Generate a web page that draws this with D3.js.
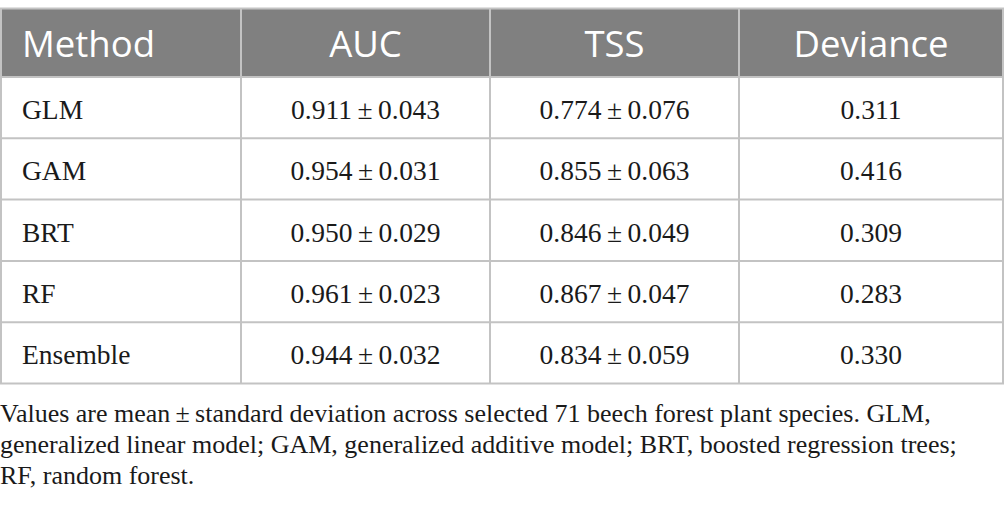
<!DOCTYPE html>
<html>
<head>
<meta charset="utf-8">
<script src="https://cdn.jsdelivr.net/npm/d3@7"></script>
<style>
html,body{margin:0;padding:0;background:#fff;}
svg{display:block;}
</style>
</head>
<body>
<svg id="chart" width="1005" height="515"></svg>
<script>
// ---- data ----
const headers = ["Method", "AUC", "TSS", "Deviance"];
const methods = ["GLM", "GAM", "BRT", "RF", "Ensemble"];
const aucMean = ["0.911", "0.954", "0.950", "0.961", "0.944"];
const aucSD   = ["0.043", "0.031", "0.029", "0.023", "0.032"];
const tssMean = ["0.774", "0.855", "0.846", "0.867", "0.834"];
const tssSD   = ["0.076", "0.063", "0.049", "0.047", "0.059"];
const deviance = ["0.311", "0.416", "0.309", "0.283", "0.330"];
const footnote = [
  "Values are mean\u2009\u00b1\u2009standard deviation across selected 71 beech forest plant species. GLM,",
  "generalized linear model; GAM, generalized additive model; BRT, boosted regression trees;",
  "RF, random forest."
];

// ---- layout ----
const svg = d3.select("#chart");
const colEdges = [1, 241, 490, 739, 1003];
const tableTop = 8.5, headerBottom = 77, rowH = 61.3;
const lineColor = "#c3c3c3";
const pm = "\u2009\u00b1\u2009";

const rows = methods.map((m, i) => [
  m,
  aucMean[i] + pm + aucSD[i],
  tssMean[i] + pm + tssSD[i],
  deviance[i]
]);

const yRow = d3.scaleLinear().domain([0, 1]).range([headerBottom, headerBottom + rowH]);
const colCenter = i => (colEdges[i] + colEdges[i + 1]) / 2;
const bottom = yRow(rows.length);

// header background
svg.append("rect")
  .attr("x", colEdges[0]).attr("y", tableTop)
  .attr("width", colEdges[4] - colEdges[0]).attr("height", headerBottom - tableTop)
  .attr("fill", "#808080");

// header texts
svg.selectAll("text.hdr").data(headers).join("text")
  .attr("class", "hdr")
  .attr("x", (d, i) => i === 0 ? 22 : colCenter(i))
  .attr("y", 57)
  .attr("text-anchor", (d, i) => i === 0 ? "start" : "middle")
  .attr("font-family", "'Open Sans', sans-serif")
  .attr("font-size", 36.5)
  .attr("fill", "#ffffff")
  .text(d => d);

// body cells
rows.forEach((r, ri) => {
  svg.selectAll(null).data(r).join("text")
    .attr("x", (d, i) => i === 0 ? 22 : colCenter(i))
    .attr("y", yRow(ri) + 42)
    .attr("text-anchor", (d, i) => i === 0 ? "start" : "middle")
    .attr("font-family", "'Liberation Serif', 'Times New Roman', serif")
    .attr("font-size", 27.5)
    .attr("fill", "#1a1a1a")
    .text(d => d);
});

// horizontal lines
const hLines = [tableTop, headerBottom].concat(d3.range(1, rows.length + 1).map(i => yRow(i)));
svg.selectAll("line.h").data(hLines).join("line")
  .attr("class", "h")
  .attr("x1", colEdges[0] - 1).attr("x2", colEdges[4] + 1)
  .attr("y1", d => d).attr("y2", d => d)
  .attr("stroke", lineColor).attr("stroke-width", 2);

// vertical lines
svg.selectAll("line.v").data(colEdges).join("line")
  .attr("class", "v")
  .attr("x1", d => d).attr("x2", d => d)
  .attr("y1", tableTop).attr("y2", bottom)
  .attr("stroke", lineColor).attr("stroke-width", 2);

// footnote
svg.selectAll("text.fn").data(footnote).join("text")
  .attr("class", "fn")
  .attr("x", 0)
  .attr("y", (d, i) => 422 + i * 31)
  .attr("font-family", "'Liberation Serif', 'Times New Roman', serif")
  .attr("font-size", 26)
  .attr("fill", "#1a1a1a")
  .text(d => d);
</script>
</body>
</html>
